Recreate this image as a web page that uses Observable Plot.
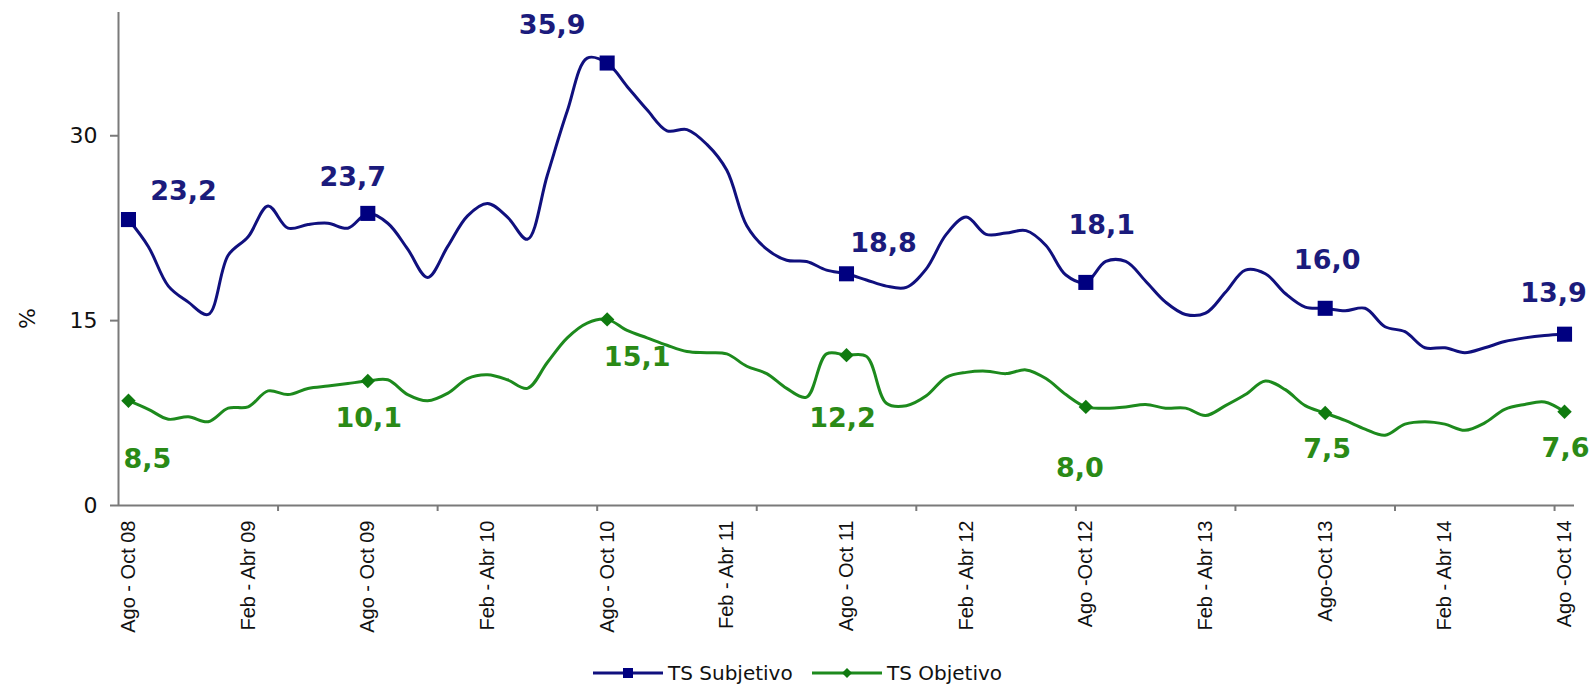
<!DOCTYPE html>
<html>
<head>
<meta charset="utf-8">
<script src="https://cdn.jsdelivr.net/npm/d3@7"></script>
<script src="https://cdn.jsdelivr.net/npm/@observablehq/plot@0.6"></script>
<style>
  body { margin: 0; background: #fff; font-family: "DejaVu Sans", sans-serif; }
  #wrap { position: relative; width: 1596px; height: 688px; overflow: hidden; background: #fff; }
  #chart svg { display: block; }
  #legend { position: absolute; top: 640px; left: 0; width: 1596px; height: 48px; }
  .item { position: absolute; top: 20px; height: 26px; line-height: 26px; display: flex; align-items: center; font-size: 20px; color: #111; white-space: nowrap; }
  .item svg { margin-right: 5px; }
</style>
</head>
<body>
<div id="wrap">
  <div id="chart"></div>
  <div id="legend"></div>
</div>
<script>
// Monthly rolling quarters, Ago-Oct 08 (index 0) ... Ago-Oct 14 (index 72)
const periodIndex = d3.range(73);

const subjetivo = [
  23.2, 21.0, 17.8, 16.5, 15.5, 20.3, 21.8, 24.3, 22.5, 22.8, 22.9, 22.5,
  23.7, 22.9, 20.8, 18.5, 21.0, 23.5, 24.5, 23.4, 21.6, 26.8, 32.0, 36.3,
  35.9, 34.0, 32.1, 30.4, 30.5, 29.3, 27.2, 22.7, 20.8, 19.9, 19.8, 19.1,
  18.8, 18.3, 17.8, 17.7, 19.2, 22.0, 23.4, 22.0, 22.1, 22.3, 21.1, 18.7,
  18.1, 19.8, 19.8, 18.2, 16.5, 15.5, 15.6, 17.3, 19.1, 18.8, 17.2, 16.1,
  16.0, 15.8, 16.0, 14.5, 14.1, 12.8, 12.8, 12.4, 12.8, 13.3, 13.6, 13.8,
  13.9
];

const objetivo = [
  8.5, 7.8, 7.0, 7.2, 6.8, 7.9, 8.0, 9.3, 9.0, 9.5, 9.7, 9.9,
  10.1, 10.2, 9.0, 8.5, 9.1, 10.3, 10.6, 10.2, 9.5, 11.6, 13.6, 14.8,
  15.1, 14.2, 13.6, 13.0, 12.5, 12.4, 12.3, 11.3, 10.7, 9.5, 8.8, 12.3,
  12.2, 12.1, 8.3, 8.1, 8.9, 10.4, 10.8, 10.9, 10.7, 11.0, 10.3, 9.0,
  8.0, 7.9, 8.0, 8.2, 7.9, 7.9, 7.3, 8.1, 9.0, 10.1, 9.4, 8.1,
  7.5, 6.9, 6.2, 5.7, 6.6, 6.8, 6.6, 6.1, 6.7, 7.8, 8.2, 8.4,
  7.6
];

const tickIndex = [0, 6, 12, 18, 24, 30, 36, 42, 48, 54, 60, 66, 72];
const tickLabels = [
  "Ago - Oct 08", "Feb - Abr 09", "Ago - Oct 09", "Feb - Abr 10", "Ago - Oct 10",
  "Feb - Abr 11", "Ago - Oct 11", "Feb - Abr 12", "Ago -Oct 12", "Feb - Abr 13",
  "Ago-Oct 13", "Feb - Abr 14", "Ago -Oct 14"
];
const markerIndex = [0, 12, 24, 36, 48, 60, 72];
const yTicks = [0, 15, 30];
const seriesNames = ["TS Subjetivo", "TS Objetivo"];

// label offsets (pixels) relative to the marked points
const subjLabelOffset = [[55, -28], [-15, -36], [-55, -38], [37, -30], [16, -57], [2, -48], [-11, -41]];
const objLabelOffset  = [[19, 59], [1, 37], [30, 38], [-4, 63], [-6, 61], [2, 36], [1, 37]];

const NAVY = "#10107e";
const GREEN = "#1d8a1d";
const NAVY_TXT = "#1b1b7c";
const GREEN_TXT = "#2a8a16";
const AXIS = "#7a7a7a";

const subjData = periodIndex.map(i => ({i, v: subjetivo[i]}));
const objData = periodIndex.map(i => ({i, v: objetivo[i]}));
const subjMarks = markerIndex.map(i => ({i, v: subjetivo[i]}));
const objMarks = markerIndex.map(i => ({i, v: objetivo[i]}));
const fmt = v => d3.format(".1f")(v).replace(".", ",");

const labelMarks = [];
subjMarks.forEach((d, k) => labelMarks.push(Plot.text([d], {
  x: "i", y: "v", text: d => fmt(d.v), dx: subjLabelOffset[k][0], dy: subjLabelOffset[k][1],
  fill: NAVY_TXT, fontSize: 27, fontWeight: "bold"
})));
objMarks.forEach((d, k) => labelMarks.push(Plot.text([d], {
  x: "i", y: "v", text: d => fmt(d.v), dx: objLabelOffset[k][0], dy: objLabelOffset[k][1],
  fill: GREEN_TXT, fontSize: 27, fontWeight: "bold"
})));

const chart = Plot.plot({
  width: 1596,
  height: 640,
  marginLeft: 118,
  marginRight: 22,
  marginTop: 12,
  marginBottom: 135,
  style: {fontFamily: "'DejaVu Sans', sans-serif", background: "white", color: "#111"},
  x: {type: "linear", domain: [-0.5, 72.5]},
  y: {domain: [0, 40]},
  marks: [
    Plot.ruleX([-0.5], {stroke: AXIS, strokeWidth: 2}),
    Plot.ruleY([0], {stroke: AXIS, strokeWidth: 2}),
    Plot.axisY({ticks: yTicks, tickSize: 8, tickPadding: 13, fontSize: 22, stroke: AXIS, strokeWidth: 2, label: null}),
    Plot.axisX({ticks: d3.range(7.5, 72, 8), tickFormat: () => "", tickSize: 6, stroke: AXIS, strokeWidth: 2, label: null}),
    Plot.axisX({ticks: tickIndex, tickFormat: d => tickLabels[tickIndex.indexOf(d)], tickSize: 0, tickPadding: 15,
                tickRotate: -90, fontSize: 20, fontFamily: "'Liberation Sans', Arial, sans-serif", label: null}),
    Plot.text(["%"], {frameAnchor: "left", dx: -91, dy: 70, rotate: -90, fontSize: 22, fill: "#111"}),
    Plot.line(subjData, {x: "i", y: "v", stroke: NAVY, strokeWidth: 3, curve: "catmull-rom"}),
    Plot.line(objData, {x: "i", y: "v", stroke: GREEN, strokeWidth: 3, curve: "catmull-rom"}),
    Plot.dot(subjMarks, {x: "i", y: "v", symbol: "square", r: 8.5, fill: "#000080", stroke: "none"}),
    Plot.dot(objMarks, {x: "i", y: "v", symbol: "diamond2", r: 6.5, fill: "#0f7a0f", stroke: "none"}),
    ...labelMarks
  ]
});
document.getElementById("chart").appendChild(chart);

// legend
const legend = document.getElementById("legend");
const legendItems = [
  {name: seriesNames[0], color: NAVY, left: 593, shape: "square"},
  {name: seriesNames[1], color: GREEN, left: 812, shape: "diamond"}
];
legendItems.forEach(it => {
  const div = document.createElement("div");
  div.className = "item";
  div.style.left = it.left + "px";
  const shape = it.shape === "square"
    ? `<rect x="30" y="5" width="10" height="10" fill="#000080"/>`
    : `<path d="M35,5 L40,10 L35,15 L30,10 Z" fill="#0f7a0f"/>`;
  div.innerHTML = `<svg width="70" height="20"><line x1="0" x2="70" y1="10" y2="10" stroke="${it.color}" stroke-width="3"/>${shape}</svg><span>${it.name}</span>`;
  legend.appendChild(div);
});
</script>
</body>
</html>
